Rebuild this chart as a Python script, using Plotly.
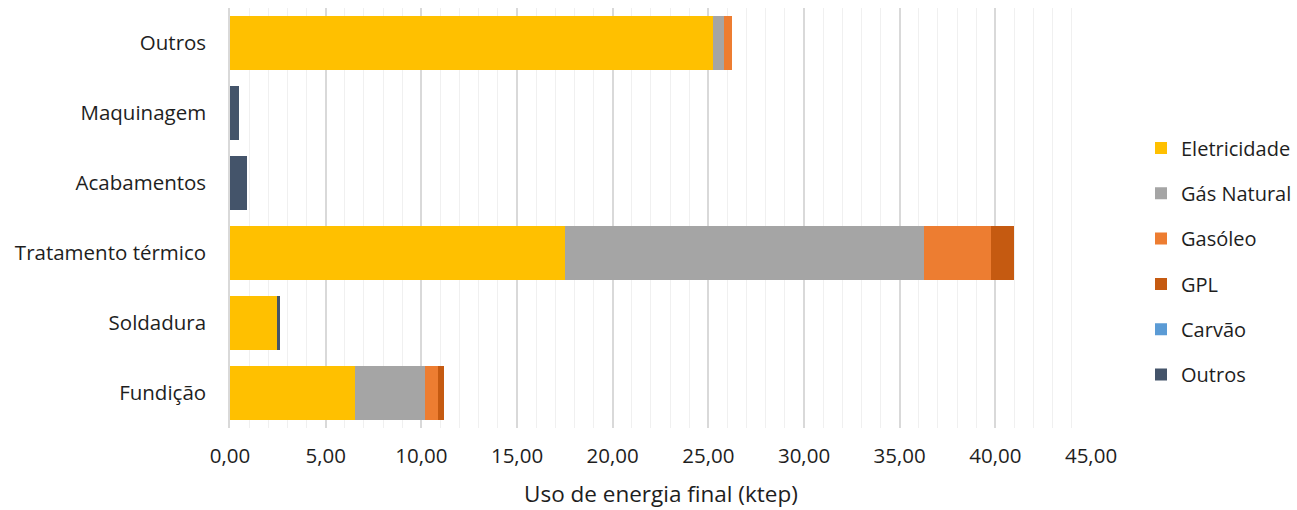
import plotly.graph_objects as go

# Final energy use by process (ktep)
processos = ["Fundição", "Soldadura", "Tratamento térmico", "Acabamentos", "Maquinagem", "Outros"]

eletricidade = [6.51, 2.44, 17.50, 0.00, 0.00, 25.23]
gas_natural = [3.66, 0.00, 18.79, 0.00, 0.00, 0.61]
gasoleo = [0.70, 0.00, 3.47, 0.00, 0.00, 0.40]
gpl = [0.33, 0.00, 1.19, 0.00, 0.00, 0.00]
carvao = [0.00, 0.00, 0.00, 0.00, 0.00, 0.00]
outros = [0.00, 0.19, 0.00, 0.88, 0.45, 0.00]

series = [
    ("Eletricidade", eletricidade, "#FFC000"),
    ("Gás Natural", gas_natural, "#A5A5A5"),
    ("Gasóleo", gasoleo, "#ED7D31"),
    ("GPL", gpl, "#C55A11"),
    ("Carvão", carvao, "#5B9BD5"),
    ("Outros", outros, "#44546A"),
]

FONT = "Open Sans"
SIZE = 20.5
TXT = "#1e1e1e"
W, H = 1297, 510
M_TOP, M_BOT = 8, 82
PLOT_H = H - M_TOP - M_BOT

fig = go.Figure()
for nome, vals, cor in series:
    fig.add_trace(go.Bar(
        y=processos, x=vals, name=nome, orientation="h",
        marker=dict(color=cor, line=dict(width=0)),
        legendgroup=nome,
    ))

fig.update_layout(
    width=W, height=H,
    barmode="stack", bargap=0.23,
    separators=",.",
    paper_bgcolor="white", plot_bgcolor="white",
    margin=dict(l=230, r=206, t=M_TOP, b=M_BOT),
    font=dict(family=FONT, size=SIZE, color=TXT),
    legend=dict(
        xref="container", yref="container",
        x=1141 / W, xanchor="left", y=1 - 256 / H, yanchor="middle",
        traceorder="grouped", tracegroupgap=16.3,
        font=dict(family=FONT, size=20, color=TXT),
        itemwidth=30,
    ),
    showlegend=True,
)

# x-axis title placed below the tick labels
fig.add_annotation(
    text="Uso de energia final (ktep)",
    xref="paper", yref="paper", x=0.5, y=-(494 - (H - M_BOT)) / PLOT_H,
    xanchor="center", yanchor="middle", showarrow=False,
    font=dict(family=FONT, size=22.5, color=TXT),
)

fig.update_xaxes(
    range=[0, 45], dtick=5, tickformat=".2f",
    showgrid=True, gridcolor="#d9d9d9", gridwidth=1.5,
    minor=dict(dtick=1, showgrid=True, gridcolor="#f0f0f0", gridwidth=1),
    zeroline=False, showline=False,
    ticks="", ticklabelstandoff=13,
    tickfont=dict(family=FONT, size=SIZE, color=TXT),
    automargin=False,
)
fig.update_yaxes(
    type="category", categoryorder="array", categoryarray=processos,
    showgrid=False, zeroline=False,
    showline=True, linecolor="#d9d9d9", linewidth=1.5,
    ticks="", ticklabelstandoff=18,
    tickfont=dict(family=FONT, size=SIZE, color=TXT),
    automargin=False,
)

fig.write_html("out.html")
